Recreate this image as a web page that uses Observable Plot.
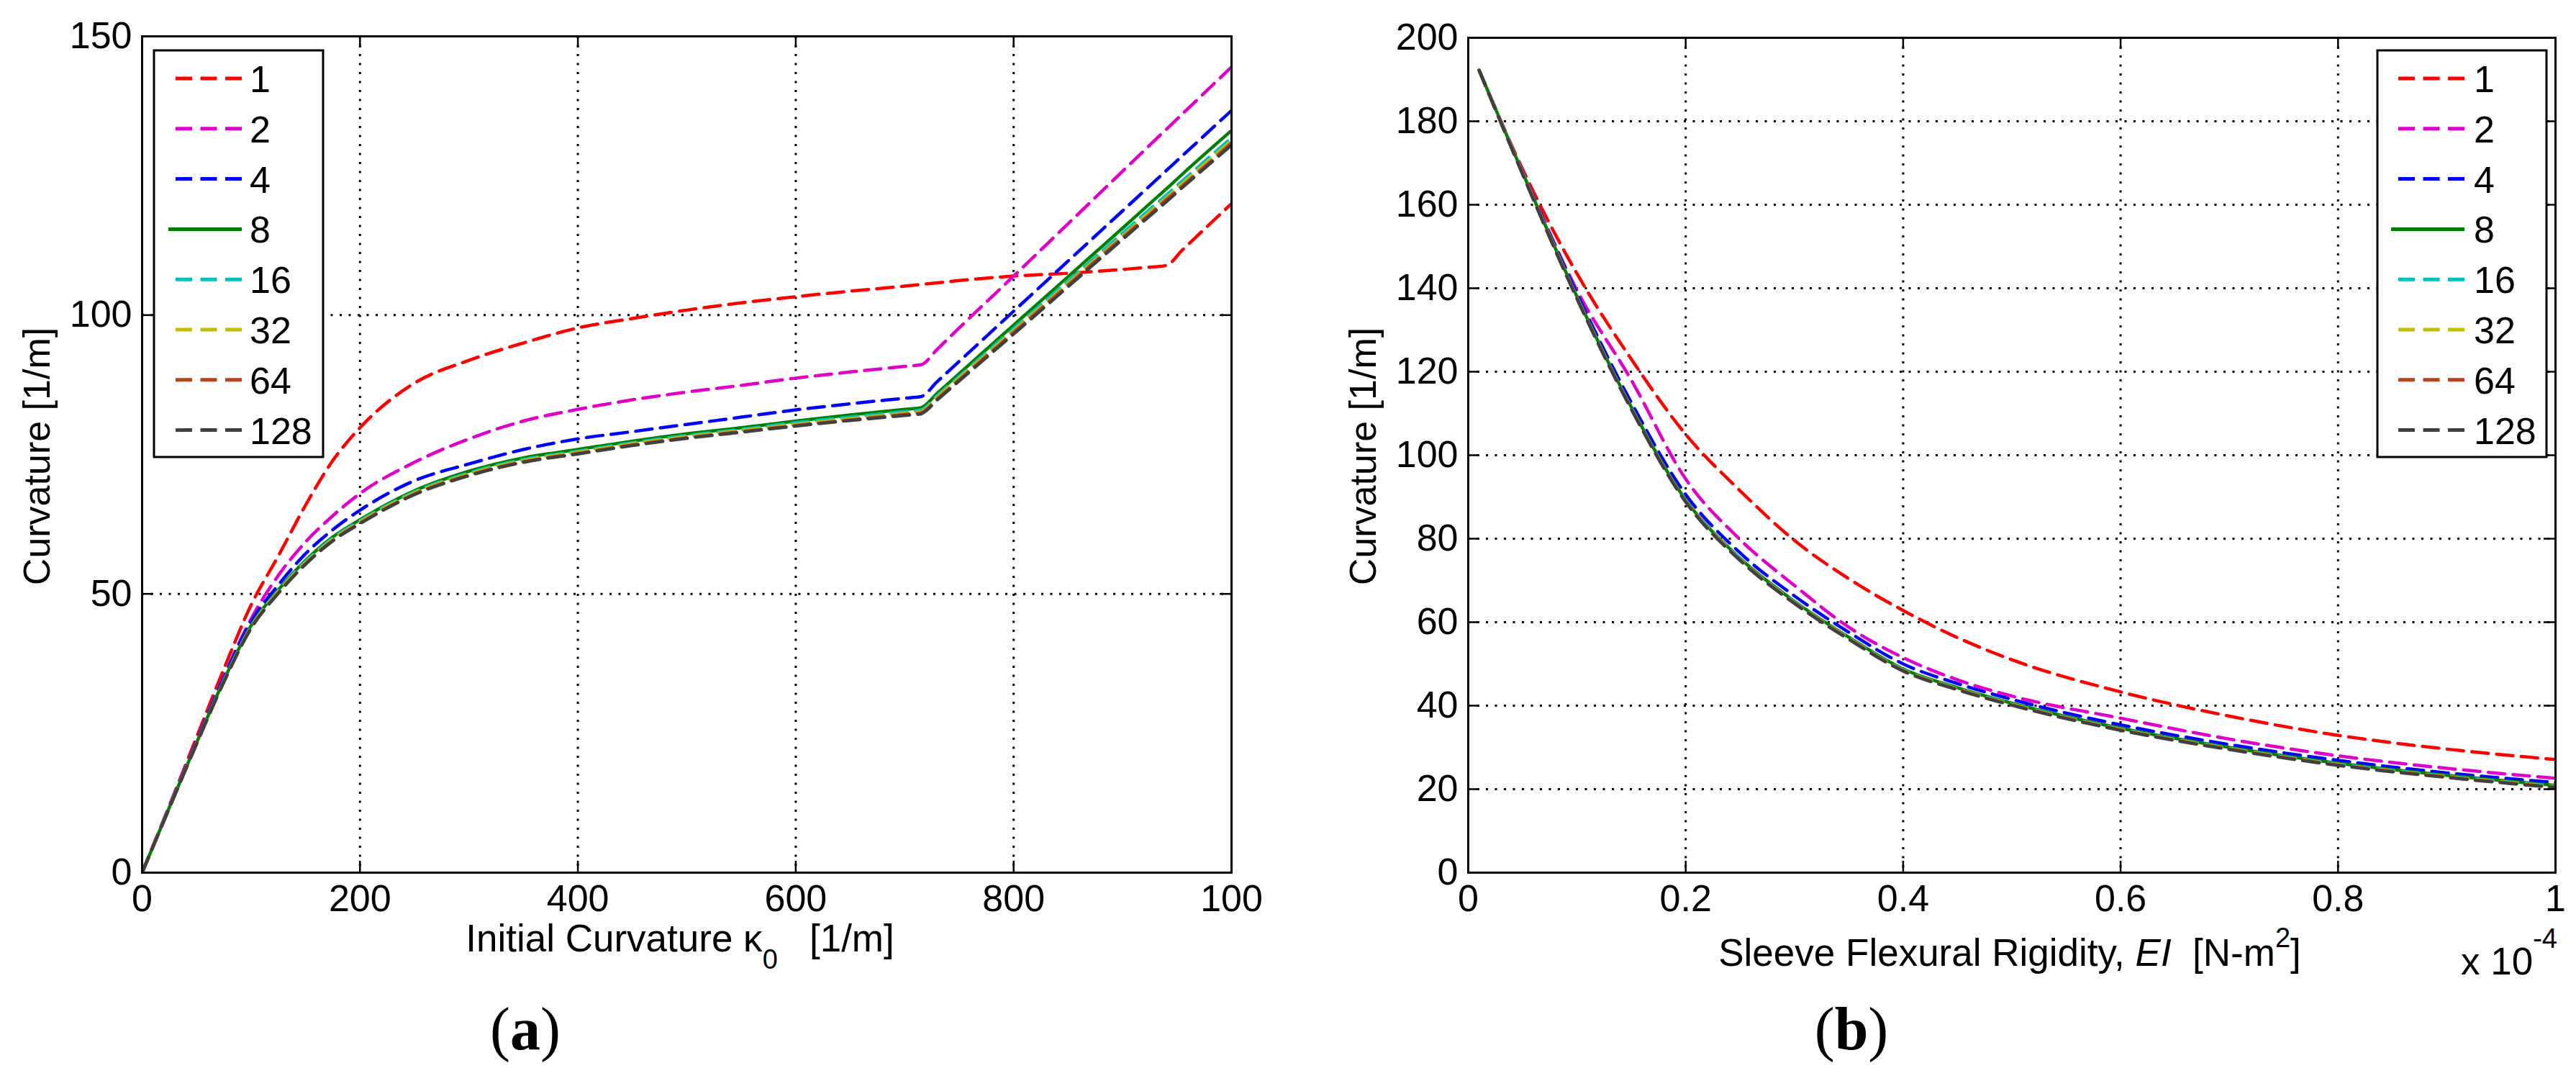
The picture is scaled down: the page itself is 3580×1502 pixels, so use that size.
<!DOCTYPE html>
<html><head><meta charset="utf-8">
<script src="https://cdn.jsdelivr.net/npm/d3@7"></script>
<script src="https://cdn.jsdelivr.net/npm/@observablehq/plot@0.6"></script>
<style>
html,body{margin:0;padding:0;background:#fff;}
#root{position:relative;width:3580px;height:1502px;overflow:hidden;background:#fff;}
#root svg{position:absolute;}
text{white-space:pre;}
</style></head><body><div id="root"></div>
<script>
// ---------- series definitions ----------
const seriesNames  = ["1","2","4","8","16","32","64","128"];
const seriesColors = ["#ff0000","#e000c8","#0000ff","#008000","#00c0c0","#c0c000","#bf4010","#404040"];
const seriesDash   = ["23,11.5","23,11.5","23,11.5",null,"23,11.5","23,11.5","23,11.5","23,11.5"];

// ---------- panel (a): initial curvature ----------
const kappa0 = [0,25,50,75,100,125,150,175,200,250,300,350,400,450,500,550,600,650,700,715,730,750,800,850,900,925,940,955,1000];
const curvA_1   = [0,12.0,24.3,36.5,48.0,56.8,65.9,73.9,79.8,87.8,91.9,95.0,97.7,99.4,100.9,102.2,103.3,104.3,105.2,105.5,105.8,106.2,107.0,107.5,108.2,108.6,108.9,111.7,120.0];
const curvA_2   = [0,11.9,23.7,35.2,45.5,53.3,59.3,64.0,68.0,73.6,77.8,81.0,83.1,84.8,86.2,87.4,88.7,89.8,90.8,91.1,93.9,97.7,107.0,116.4,125.8,130.5,133.3,136.1,144.5];
const curvA_4   = [0,11.8,23.5,35.0,45.0,51.6,57.2,61.5,65.0,70.3,73.3,75.9,77.8,79.1,80.4,81.7,83.0,84.1,85.1,85.4,88.1,91.7,100.7,109.7,118.7,123.2,125.9,128.6,136.7];
const curvA_8   = [0,11.7,23.3,34.5,44.3,50.7,56.0,60.2,63.3,68.5,72.0,74.4,75.9,77.4,78.7,79.8,81.0,82.1,83.1,83.4,86.0,89.5,98.2,106.9,115.6,120.0,122.6,125.3,133.1];
const curvA_16  = [0,11.7,23.2,34.4,44.1,50.5,55.8,60.0,63.1,68.3,71.7,74.1,75.6,77.1,78.4,79.5,80.7,81.7,82.7,83.0,85.6,89.0,97.6,106.1,114.7,119.0,121.5,124.1,131.8];
const curvA_32  = [0,11.65,23.15,34.3,44.0,50.4,55.6,59.8,62.9,68.1,71.5,73.9,75.4,76.9,78.2,79.3,80.4,81.4,82.4,82.7,85.3,88.7,97.2,105.7,114.2,118.5,121.0,123.6,131.3];
const curvA_64  = [0,11.6,23.1,34.2,43.9,50.2,55.4,59.6,62.7,67.9,71.3,73.7,75.2,76.7,78.0,79.1,80.2,81.2,82.2,82.5,85.0,88.4,96.9,105.4,113.9,118.1,120.7,123.2,130.9];
const curvA_128 = [0,11.6,23.1,34.2,43.8,50.1,55.3,59.5,62.6,67.8,71.2,73.6,75.1,76.6,77.9,79.0,80.1,81.1,82.0,82.3,84.8,88.2,96.6,105.1,113.6,117.8,120.3,122.9,130.5];
const xTicksA = [0,200,400,600,800,1000];
const xTickLabelsA = ["0","200","400","600","800","100"];
const yTicksA = [0,50,100,150];
const yTickLabelsA = ["0","50","100","150"];

// ---------- panel (b): sleeve flexural rigidity (x 10^-4 N-m^2) ----------
const rigidity = [0.01,0.05,0.1,0.15,0.2,0.25,0.3,0.35,0.4,0.45,0.5,0.6,0.7,0.8,0.9,1.0];
const curvB_1   = [192.2,168.5,143.5,123.0,105.0,91.5,79.6,70.4,62.8,56.3,51.0,43.3,37.5,32.9,29.6,27.1];
const curvB_2   = [192.2,168.0,139.5,118.0,94.3,79.8,68.8,58.8,51.5,46.2,42.3,37.0,32.0,28.0,25.0,22.6];
const curvB_4   = [192.2,167.8,138.7,112.6,90.6,76.6,66.3,57.6,50.0,45.3,41.5,35.4,30.7,26.9,23.9,21.6];
const curvB_8   = [192.2,167.7,138.0,111.5,89.3,75.3,65.0,56.4,48.8,44.3,40.6,34.6,30.0,26.2,23.3,20.9];
const curvB_16  = [192.2,167.6,137.8,111.3,89.1,75.1,64.8,56.2,48.6,44.1,40.4,34.4,29.8,26.0,23.1,20.7];
const curvB_32  = [192.2,167.5,137.7,111.2,89.0,75.0,64.7,56.1,48.5,44.0,40.3,34.3,29.7,25.9,23.0,20.6];
const curvB_64  = [192.2,167.4,137.6,111.1,88.9,74.9,64.6,56.0,48.4,43.9,40.2,34.2,29.6,25.8,22.9,20.5];
const curvB_128 = [192.2,167.3,137.5,111.0,88.8,74.8,64.5,55.9,48.3,43.8,40.1,34.1,29.5,25.7,22.8,20.4];
const xTicksB = [0,0.2,0.4,0.6,0.8,1];
const xTickLabelsB = ["0","0.2","0.4","0.6","0.8","1"];
const yTicksB = [0,20,40,60,80,100,120,140,160,180,200];
const yTickLabelsB = ["0","20","40","60","80","100","120","140","160","180","200"];

const FONT = "'Liberation Sans', Arial, Helvetica, sans-serif";
const root = document.getElementById("root");

function panel(o) {
  const rows = [];
  seriesNames.forEach((name, si) => o.xs.forEach((x, i) => rows.push({series: name, x, y: o.ys[si][i]})));
  const plotW = o.width - o.mL - o.mR, plotH = o.height - o.mT - o.mB;
  const xLab = new Map(o.xTicks.map((d, i) => [d, o.xTickLabels[i]]));
  const yLab = new Map(o.yTicks.map((d, i) => [d, o.yTickLabels[i]]));
  const gridStyle = {stroke: "#000", strokeOpacity: 1, strokeWidth: 3, strokeDasharray: "3,9.5"};
  const tickStyle = {stroke: "#000", strokeWidth: 2.5};
  const svg = Plot.plot({
    width: o.width, height: o.height,
    marginLeft: o.mL, marginRight: o.mR, marginTop: o.mT, marginBottom: o.mB,
    x: {domain: o.xDomain}, y: {domain: o.yDomain},
    style: {fontFamily: FONT, fontSize: "52px", background: "transparent", overflow: "visible", maxWidth: "none", color: "#000"},
    marks: [
      Plot.gridX(o.xTicks, gridStyle),
      Plot.gridY(o.yTicks, gridStyle),
      ...seriesNames.map((name, si) => Plot.line(rows.filter(r => r.series === name), {
        x: "x", y: "y", stroke: seriesColors[si], strokeWidth: 4.5,
        strokeDasharray: seriesDash[si] || undefined, curve: "monotone-x", clip: true
      })),
      Plot.tickX(o.xTicks, {x: d => d, insetTop: plotH - 16, ...tickStyle}),
      Plot.tickX(o.xTicks, {x: d => d, insetBottom: plotH - 16, ...tickStyle}),
      Plot.tickY(o.yTicks, {y: d => d, insetRight: plotW - 16, ...tickStyle}),
      Plot.tickY(o.yTicks, {y: d => d, insetLeft: plotW - 16, ...tickStyle}),
      Plot.frame({stroke: "#000", strokeWidth: 3}),
      Plot.axisX(o.xTicks, {tickSize: 0, tickPadding: 17, tickFormat: d => xLab.get(d), label: null, fill: "#000"}),
      Plot.axisY(o.yTicks, {tickSize: 0, tickPadding: 14, tickFormat: d => yLab.get(d), label: null, fill: "#000"})
    ]
  });
  svg.style.left = o.left + "px";
  svg.style.top = "0px";
  root.appendChild(svg);
}

panel({xs: kappa0, ys: [curvA_1,curvA_2,curvA_4,curvA_8,curvA_16,curvA_32,curvA_64,curvA_128],
  xDomain: [0,1000], yDomain: [0,150], xTicks: xTicksA, xTickLabels: xTickLabelsA, yTicks: yTicksA, yTickLabels: yTickLabelsA,
  left: 0, width: 1790, height: 1400, mL: 197, mR: 79, mT: 50, mB: 188});

panel({xs: rigidity, ys: [curvB_1,curvB_2,curvB_4,curvB_8,curvB_16,curvB_32,curvB_64,curvB_128],
  xDomain: [0,1], yDomain: [0,200], xTicks: xTicksB, xTickLabels: xTickLabelsB, yTicks: yTicksB, yTickLabels: yTickLabelsB,
  left: 1790, width: 1790, height: 1400, mL: 250, mR: 29, mT: 52, mB: 188});

// ---------- overlay: titles, panel letters, legends ----------
const ov = d3.select(root).append("svg")
  .attr("width", 3580).attr("height", 1502)
  .style("left", "0px").style("top", "0px")
  .attr("font-family", FONT).attr("font-size", 52).attr("fill", "#000");

function yTitle(x, y) {
  ov.append("text").attr("transform", `translate(${x},${y}) rotate(-90)`)
    .attr("text-anchor", "middle").text("Curvature [1/m]");
}
yTitle(69, 634);
yTitle(1912, 634);

const tA = ov.append("text").attr("x", 945).attr("y", 1322).attr("text-anchor", "middle").attr("font-size", 53);
tA.append("tspan").text("Initial Curvature \u03BA");
tA.append("tspan").attr("font-size", 38).attr("dy", 24).text("0");
tA.append("tspan").attr("dy", -24).text("   [1/m]");

const tB = ov.append("text").attr("x", 2793).attr("y", 1342).attr("text-anchor", "middle").attr("font-size", 53);
tB.append("tspan").text("Sleeve Flexural Rigidity, ");
tB.append("tspan").attr("font-style", "italic").text("EI");
tB.append("tspan").text("  [N-m");
tB.append("tspan").attr("font-size", 38).attr("dy", -26).text("2");
tB.append("tspan").attr("dy", 26).text("]");

const tE = ov.append("text").attr("x", 3420).attr("y", 1354).attr("text-anchor", "start").attr("font-size", 53);
tE.append("tspan").text("x 10");
tE.append("tspan").attr("font-size", 38).attr("dy", -37).text("-4");

function letter(x, ch) {
  const t = ov.append("text").attr("x", x).attr("y", 1458).attr("text-anchor", "middle")
    .attr("font-family", "'Liberation Serif', 'Times New Roman', serif").attr("font-size", 84);
  t.append("tspan").text("(");
  t.append("tspan").attr("font-weight", "bold").text(ch);
  t.append("tspan").text(")");
}
letter(730, "a");
letter(2573, "b");

function legend(bx, by, bw, bh, lx1, lx2, solidX1, tx) {
  const g = ov.append("g");
  g.append("rect").attr("x", bx).attr("y", by).attr("width", bw).attr("height", bh)
    .attr("fill", "#fff").attr("stroke", "#000").attr("stroke-width", 3);
  seriesNames.forEach((name, i) => {
    const cy = by + 39 + i * 69.8;
    g.append("line").attr("x1", seriesDash[i] ? lx1 : solidX1).attr("x2", lx2).attr("y1", cy).attr("y2", cy)
      .attr("stroke", seriesColors[i]).attr("stroke-width", 5)
      .attr("stroke-dasharray", seriesDash[i] || null);
    g.append("text").attr("x", tx).attr("y", cy + 19).attr("text-anchor", "start").text(name);
  });
}
legend(214, 70, 235, 565, 244, 336, 234, 347);
legend(3304, 70, 235, 565, 3333, 3425, 3323, 3438);
</script></body></html>
